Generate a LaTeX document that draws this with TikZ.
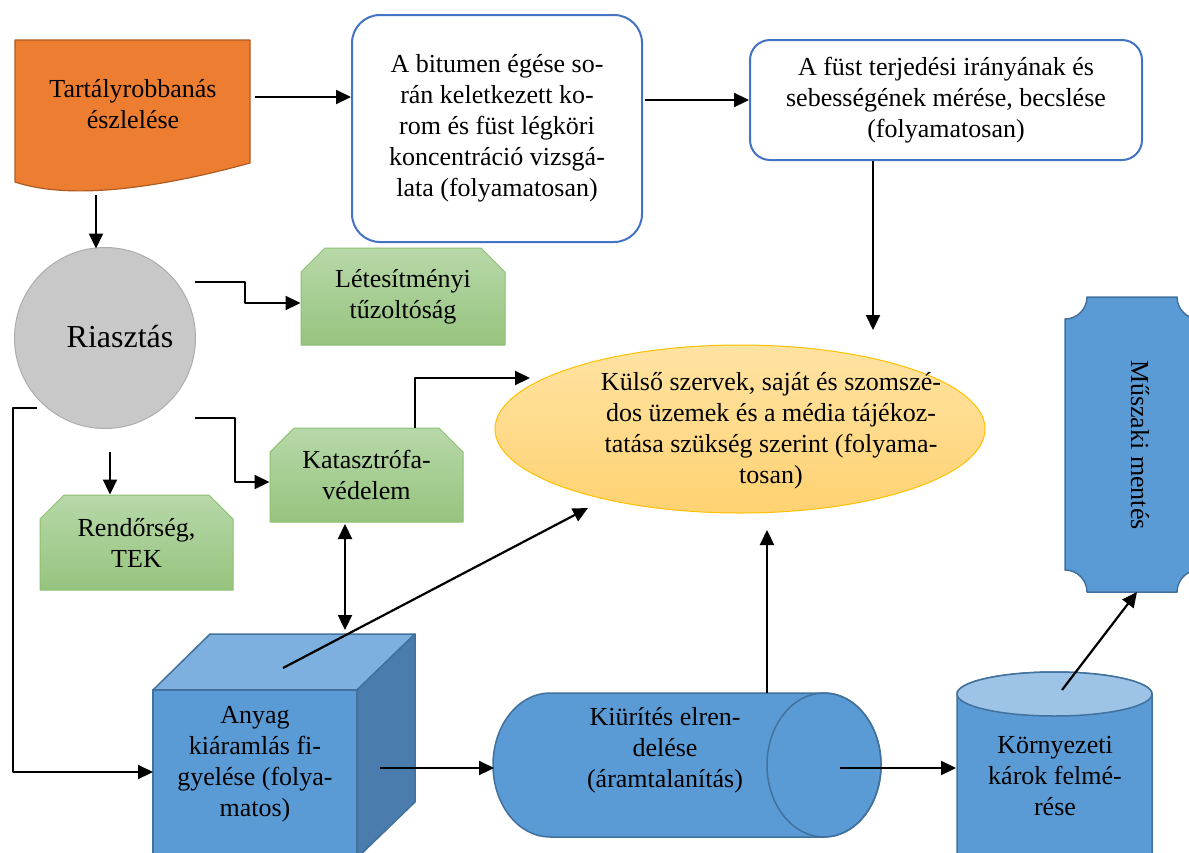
\documentclass[tikz,border=0pt]{standalone}
\usepackage{fontspec}
\setmainfont{Liberation Serif}
\usetikzlibrary{arrows.meta,shapes.geometric,shapes.misc,calc}
\definecolor{orfill}{HTML}{ED7D31}
\definecolor{orline}{HTML}{AE5A21}
\definecolor{rblue}{HTML}{4472C4}
\definecolor{gtop}{HTML}{B7D8A9}
\definecolor{gbot}{HTML}{96C47E}
\definecolor{gline}{HTML}{8DC070}
\definecolor{ytop}{HTML}{FFE3A3}
\definecolor{ybot}{HTML}{FFD272}
\definecolor{yline}{HTML}{FFC000}
\definecolor{bfill}{HTML}{5B9BD5}
\definecolor{bline}{HTML}{41719C}
\definecolor{btop}{HTML}{7DB0DE}
\definecolor{bside}{HTML}{4A7DAE}
\definecolor{blight}{HTML}{9DC3E6}
\definecolor{cgray}{HTML}{C8C8C8}
\definecolor{cgrayd}{HTML}{ADADAD}
\begin{document}
\begin{tikzpicture}[x=1pt,y=-1pt,line join=round,
  txt/.style={font=\fontsize{26}{31}\selectfont,align=center,inner sep=0pt},
  conn/.style={line width=2.2pt,-{Triangle[length=15pt,width=14pt]}},
  dconn/.style={line width=2.2pt,{Triangle[length=15pt,width=14pt]}-{Triangle[length=15pt,width=14pt]}},
  greenbox/.style={chamfered rectangle,chamfered rectangle corners={north west,north east},
    chamfered rectangle xsep=12pt,chamfered rectangle ysep=12pt,
    top color=gtop,bottom color=gbot,draw=gline,line width=1pt,inner sep=0pt,
    font=\fontsize{26}{31}\selectfont,align=center},
  rbox/.style={rectangle,draw=rblue,line width=2pt,fill=white,inner sep=0pt,
    font=\fontsize{26}{31}\selectfont,align=center},
  blueshape/.style={fill=bfill,draw=bline,line width=1.5pt}]
\useasboundingbox (0,0) rectangle (1189,852);
\clip (0,0) rectangle (1189,852);
\fill[white] (0,0) rectangle (1189,852);

% document shape
\draw[fill=orfill,draw=orline,line width=1.2pt] (15,40) -- (250,40) -- (250,163)
  .. controls (170,185) and (75,202) .. (15,182) -- cycle;
\node[txt] (doc) at (133,104) {Tartályrobbanás\\észlelése};

% rounded boxes
\node[rbox,rounded corners=28pt,minimum width=290pt,minimum height=227pt] (bit) at (497,128.5)
  {A bitumen égése so-\\rán keletkezett ko-\\rom és füst légköri\\koncentráció vizsgá-\\lata (folyamatosan)};
\node[rbox,rounded corners=20pt,minimum width=392pt,minimum height=120pt] (ter) at (946,100)
  {A füst terjedési irányának és\\sebességének mérése, becslése\\(folyamatosan)};

% circle
\node[circle,fill=cgray,draw=cgrayd,line width=1pt,minimum size=181pt,inner sep=0pt] (ria) at (105,338) {};
\node[font=\fontsize{32}{38}\selectfont,inner sep=0pt] (riat) at (120,337) {Riasztás};

% green boxes
\node[greenbox,minimum width=204pt,minimum height=97pt] (lete) at (403,296.5) {Létesítményi\\tűzoltóság};
\node[greenbox,minimum width=193pt,minimum height=94pt] (kat) at (366.5,475) {Katasztrófa-\\védelem};
\node[greenbox,minimum width=193pt,minimum height=95pt] (ren) at (136.5,542.5) {Rendőrség,\\TEK};

% ellipse
\node[ellipse,minimum width=490pt,minimum height=168pt,draw=yline,line width=1pt,
  top color=ytop,bottom color=ybot,inner sep=0pt] (kul) at (740,429) {};
\node[txt] (kult) at (771,431) {Külső szervek, saját és szomszé-\\dos üzemek és a média tájékoz-\\tatása szükség szerint (folyama-\\tosan)};

% cube
\draw[blueshape,fill=btop] (153,690) -- (210,634) -- (415,634) -- (357,690) -- cycle;
\draw[blueshape,fill=bside] (357,690) -- (415,634) -- (415,802) -- (357,858) -- cycle;
\draw[blueshape] (153,690) rectangle (357,870);
\node[txt] (cube) at (255,764) {Anyag\\kiáramlás fi-\\gyelése (folya-\\matos)};

% horizontal cylinder
\draw[blueshape] (824,693) -- (550,693) arc[start angle=270,end angle=90,x radius=57,y radius=72]
  -- (824,837) arc[start angle=90,end angle=-90,x radius=57,y radius=72] -- cycle;
\draw[bline,line width=1.5pt] (824,765) ellipse[x radius=57,y radius=72];
\node[txt] (kiur) at (665,750) {Kiürítés elren-\\delése\\(áramtalanítás)};

% vertical cylinder
\draw[blueshape] (957,694) -- (957,880) arc[start angle=180,end angle=0,x radius=97.5,y radius=22]
  -- (1152,694) arc[start angle=0,end angle=-180,x radius=97.5,y radius=22] -- cycle;
\draw[blueshape,fill=blight] (1054.5,694) ellipse[x radius=97.5,y radius=22];
\node[txt] (korny) at (1055,776) {Környezeti\\károk felmé-\\rése};

% scroll shape
\draw[blueshape] (1087,297) -- (1177,297)
  arc[start angle=180,end angle=90,radius=22] -- (1199,570)
  arc[start angle=270,end angle=180,radius=22] -- (1087,592)
  arc[start angle=0,end angle=-90,radius=22] -- (1065,319)
  arc[start angle=90,end angle=0,radius=22] -- cycle;
\node[txt,rotate=-90] (musz) at (1140,445) {Műszaki mentés};

% connectors
\coordinate (d1) at (255,97);
\draw[conn] (d1) -- (d1 -| bit.west);
\coordinate (b1) at (645,100);
\draw[conn] (b1) -- (b1 -| ter.west);
\coordinate (d2) at (96,195);
\draw[conn] (d2) -- (96,248.5);
\coordinate (r1) at (195,282);
\coordinate (r1b) at (245,303);
\draw[conn] (r1) -| (r1b) -- (r1b -| lete.west);
\coordinate (r2) at (195,418);
\coordinate (r2b) at (235,482);
\draw[conn] (r2) -| (r2b) -- (r2b -| kat.west);
\coordinate (r3) at (110,452);
\draw[conn] (r3) -- (r3 |- ren.north);
\coordinate (r4) at (37,408);
\coordinate (r4b) at (13,772);
\coordinate (cubew) at (153,772);
\draw[conn] (r4) -| (r4b) -- (cubew);
\coordinate (k1) at (415,378);
\coordinate (k2) at (530,378);
\draw[conn] (k1 |- kat.north) -- (k1) -- (k2);
\coordinate (t1) at (873,330);
\draw[conn] (t1 |- ter.south) -- (t1);
\coordinate (c1) at (345,630);
\draw[dconn] (345,524) -- (c1);
\coordinate (c2) at (283,668);
\coordinate (e1) at (588,508);
\draw[conn] (c2) -- (e1);
\coordinate (c3) at (380,768);
\coordinate (cylw) at (494,768);
\draw[conn] (c3) -- (cylw);
\coordinate (cy1) at (767,693);
\coordinate (e2) at (767,530);
\draw[conn] (cy1) -- (e2);
\coordinate (cy2) at (840,768);
\coordinate (vcw) at (956,768);
\draw[conn] (cy2) -- (vcw);
\coordinate (vc1) at (1062,690);
\coordinate (sc1) at (1137,592);
\draw[conn] (vc1) -- (sc1);
\end{tikzpicture}
\end{document}
